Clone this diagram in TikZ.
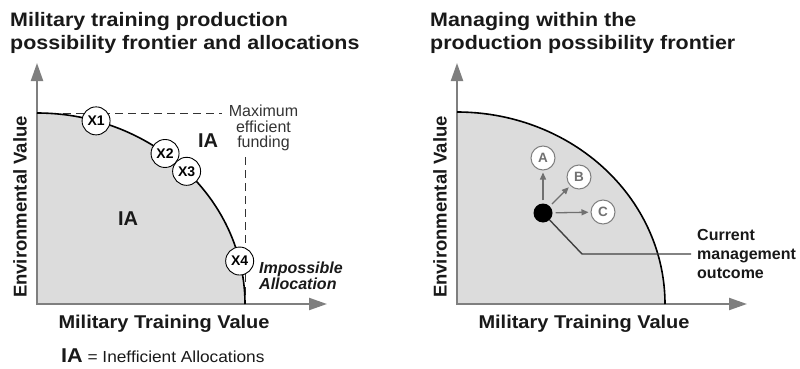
\documentclass[tikz,border=0pt]{standalone}
\usepackage{fontspec}
\setmainfont{Liberation Sans}
\usetikzlibrary{arrows.meta}
\definecolor{axisgray}{HTML}{7F7F7F}
\definecolor{ppfgray}{HTML}{DCDCDC}
\definecolor{txtgray}{HTML}{333333}
\definecolor{arrgray}{HTML}{707070}
\definecolor{leadgray}{HTML}{404040}
\newcommand{\hstretch}[2][1.09]{\scalebox{#1}[1]{#2}}
\begin{document}
\begin{tikzpicture}[x=1pt,y=-1pt,
  axis/.style={draw=axisgray, line width=2.2pt, -{Triangle[length=18pt,width=12pt]}},
  frontier/.style={draw=black, line width=1.6pt},
  ppf/.style={fill=ppfgray},
  dashline/.style={draw=txtgray, line width=1pt, dash pattern=on 8pt off 5pt},
  title/.style={anchor=base west, inner sep=0pt, font=\fontsize{19.5}{22}\selectfont\bfseries, text=black!90},
  axlabel/.style={inner sep=0pt, font=\fontsize{18.5}{22}\selectfont\bfseries, text=black!90},
  xnode/.style={circle, draw=black, line width=0.9pt, fill=white, minimum size=28pt, inner sep=0pt, font=\fontsize{14}{14}\selectfont\bfseries},
  abc/.style={circle, draw=axisgray, line width=1pt, fill=white, minimum size=24pt, inner sep=0pt, text=arrgray, font=\fontsize{13.5}{13.5}\selectfont\bfseries},
  ia/.style={inner sep=0pt, font=\fontsize{20}{20}\selectfont\bfseries, text=black!90},
  note/.style={inner sep=0pt, text=txtgray, font=\fontsize{16}{15.5}\selectfont},
  garrow/.style={draw=arrgray, line width=1.3pt, -{Triangle[length=7pt,width=6pt]}, shorten >=2pt, shorten <=3pt},
  leader/.style={draw=leadgray, line width=1.4pt},
  dotnode/.style={circle, fill=black, minimum size=19pt, inner sep=0pt}
]
\useasboundingbox (0,0) rectangle (800,369);

% ===== Left panel =====
\node[title] (tl1) at (10,27) {\hstretch[1.1]{Military training production}};
\node[title] (tl2) at (10,50) {\hstretch[1.1]{possibility frontier and allocations}};

\coordinate (O1) at (37,304);
\fill[ppf] (O1) -- plot[domain=90:0, samples=80] ({37+208*cos(\x)},{304-191*sin(\x)}) -- cycle;
\draw[dashline] (37,113) -- (222,113);
\draw[dashline] (245,157) -- (245,304);
\draw[axis] (37,305) -- (37,63);
\draw[axis] (36,304) -- (327,304);
\draw[frontier] plot[domain=90:0, samples=80] ({37+208*cos(\x)},{304-191*sin(\x)});

\node[xnode] (x1) at ({37+208*cos(73.5)},{304-191*sin(73.5)}) {X1};
\node[xnode] (x2) at ({37+208*cos(52)},{304-191*sin(52)}) {X2};
\node[xnode] (x3) at ({37+208*cos(44)},{304-191*sin(44)}) {X3};
\node[xnode] (x4) at ({37+208*cos(13)},{304-191*sin(13)}) {X4};

\node[note, align=center] (maxf) at (263.5,128) {Maximum\\efficient\\funding};
\node[ia] (ia1) at (208,141) {IA};
\node[ia] (ia2) at (128,219) {IA};
\node[inner sep=0pt, align=left, anchor=west, text=black!90, font=\fontsize{16}{16.5}\selectfont\bfseries\itshape] (imp) at (259,276) {Impossible\\Allocation};

\node[axlabel, anchor=base] (mtv1) at (164,328) {\hstretch[1.08]{Military Training Value}};
\node[axlabel, rotate=90] (env1) at (20,207) {Environmental Value};

\node[anchor=base west, inner sep=0pt, text=black!90, font=\fontsize{16}{16}\selectfont] (legend) at (61,362) {\hstretch[1.08]{{\fontsize{20}{20}\selectfont\bfseries IA} = Inefficient Allocations}};

% ===== Right panel =====
\node[title] (tr1) at (430,27) {\hstretch[1.1]{Managing within the}};
\node[title] (tr2) at (430,50) {\hstretch[1.1]{production possibility frontier}};

\coordinate (O2) at (457,304);
\fill[ppf] (O2) -- plot[domain=90:0, samples=80] ({457+208*cos(\x)},{304-192*sin(\x)}) -- cycle;
\draw[axis] (457,305) -- (457,63);
\draw[axis] (456,304) -- (747,304);
\draw[frontier] plot[domain=90:0, samples=80] ({457+208*cos(\x)},{304-192*sin(\x)});

\node[dotnode] (cur) at (543,213) {};
\node[abc] (A) at (543,158) {A};
\node[abc] (B) at (579,177) {B};
\node[abc] (C) at (603,212) {C};
\draw[garrow] (cur) -- (A);
\draw[garrow] (cur) -- (B);
\draw[garrow] (cur) -- (C);

\node[inner sep=0pt, align=left, anchor=west, text=black!90, font=\fontsize{16}{19}\selectfont\bfseries] (outc) at (697,254) {Current\\management\\outcome};
\coordinate (bend) at (582,254);
\draw[leader] (cur) -- (bend) -- ([xshift=-6pt]outc.west);

\node[axlabel, anchor=base] (mtv2) at (584,328) {\hstretch[1.08]{Military Training Value}};
\node[axlabel, rotate=90] (env2) at (440,207) {Environmental Value};
\end{tikzpicture}
\end{document}
